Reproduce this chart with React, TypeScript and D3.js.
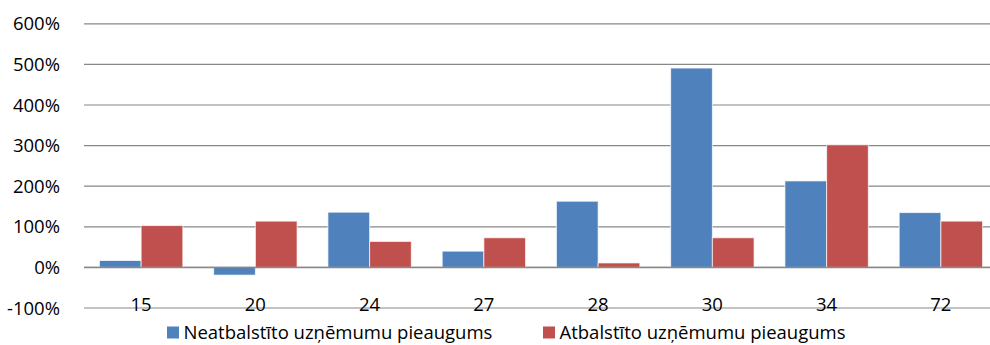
import React, { useEffect, useRef } from 'react';
import * as d3 from 'd3';

const categories = ['15', '20', '24', '27', '28', '30', '34', '72'];
const seriesNames = ['Neatbalstīto uzņēmumu pieaugums', 'Atbalstīto uzņēmumu pieaugums'];
const unsupported = [17, -19, 136, 40, 163, 491, 213, 135];
const supported = [103, 114, 64, 73, 11, 73, 302, 114];
const yTicks = [-100, 0, 100, 200, 300, 400, 500, 600];
const colors = ['#4f81bd', '#c0504d'];

const App: React.FC = () => {
    const ref = useRef<SVGSVGElement>(null);

    useEffect(() => {
        const svg = d3.select(ref.current);
        svg.selectAll('*').remove();

        const font = "'Open Sans', sans-serif";
        const fontSize = 18.5;
        const x0 = d3.scaleBand().domain(categories).range([84, 998]);
        const x1 = d3.scaleBand().domain(seriesNames).range([0, x0.bandwidth()]).paddingOuter(0.37);
        const y = d3.scaleLinear().domain([-100, 600]).range([308, 23.8]);

        // gridlines
        svg.append('g')
            .selectAll('line')
            .data(yTicks)
            .enter().append('line')
            .attr('x1', 84).attr('x2', 990)
            .attr('y1', d => y(d)).attr('y2', d => y(d))
            .attr('stroke', '#888').attr('stroke-width', 1.2);

        // y labels
        svg.append('g')
            .selectAll('text')
            .data(yTicks)
            .enter().append('text')
            .attr('x', 60).attr('y', d => y(d))
            .attr('dy', '0.36em')
            .attr('text-anchor', 'end')
            .attr('font-family', font).attr('font-size', fontSize)
            .text(d => `${d}%`);

        const rows = categories.map((c, i) => ({ c, vals: [unsupported[i], supported[i]] }));
        const groups = svg.append('g').selectAll('g')
            .data(rows)
            .enter().append('g')
            .attr('transform', d => `translate(${x0(d.c)},0)`);

        groups.selectAll('rect')
            .data(d => d.vals.map((v, k) => ({ v, k })))
            .enter().append('rect')
            .attr('x', d => x1(seriesNames[d.k]) as number)
            .attr('width', x1.bandwidth())
            .attr('y', d => y(Math.max(0, d.v)))
            .attr('height', d => Math.abs(y(d.v) - y(0)))
            .attr('fill', d => colors[d.k])
            .attr('stroke', '#fff').attr('stroke-opacity', 0.7).attr('stroke-width', 1);

        // zero line on top
        svg.append('line')
            .attr('x1', 84).attr('x2', 990)
            .attr('y1', y(0)).attr('y2', y(0))
            .attr('stroke', '#888').attr('stroke-width', 1.5);

        // category labels
        svg.append('g')
            .selectAll('text')
            .data(categories)
            .enter().append('text')
            .attr('x', d => (x0(d) as number) + x0.bandwidth() / 2)
            .attr('y', 311)
            .attr('text-anchor', 'middle')
            .attr('font-family', font).attr('font-size', fontSize)
            .text(d => d);

        // legend
        const legendX = [167, 543];
        const legend = svg.append('g').selectAll('g')
            .data(seriesNames)
            .enter().append('g')
            .attr('transform', (d, i) => `translate(${legendX[i]},326.5)`);
        legend.append('rect')
            .attr('width', 12).attr('height', 12)
            .attr('fill', (d, i) => colors[i]);
        legend.append('text')
            .attr('x', 16.5).attr('y', 6)
            .attr('dy', '0.36em')
            .attr('font-family', font).attr('font-size', fontSize)
            .text(d => d);
    }, []);

    return (
        <svg ref={ref} width={990} height={345}
            style={{ position: 'absolute', left: 0, top: 0, background: '#fff' }} />
    );
};

export default App;
